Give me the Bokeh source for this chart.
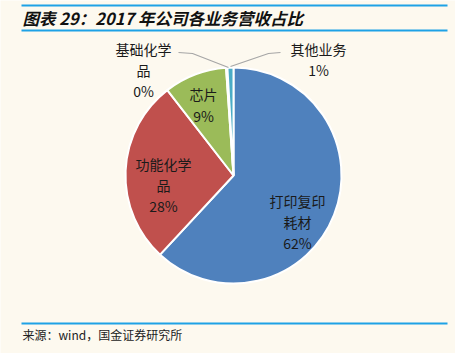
import numpy as np
from bokeh.plotting import figure
from bokeh.models import Range1d, ColumnDataSource
from bokeh.core.properties import value
from bokeh.embed import file_html
from bokeh.resources import INLINE

# ---- data ----
categories = ["打印复印耗材", "功能化学品", "芯片", "基础化学品", "其他业务"]
shares = [61.9, 27.6, 9.4, 0.2, 0.9]
pct_labels = ["62%", "28%", "9%", "0%", "1%"]
colors = ["#4F81BD", "#C0504D", "#9BBB59", "#8064A2", "#4BACC6"]

W, H = 455, 353
BG = "#FDF9EF"

p = figure(width=W, height=H, output_backend="svg", toolbar_location=None,
           x_range=Range1d(0, W), y_range=Range1d(0, H), min_border=0)
p.axis.visible = False
p.grid.visible = False
p.outline_line_color = None
p.background_fill_color = BG
p.border_fill_color = BG

def Y(y):
    return H - y

# pie geometry (layout)
cx, cy, r = 233, Y(175), 108
frac = np.array(shares) / sum(shares)
ends = np.cumsum(frac)
starts = ends - frac
start_angle = np.pi / 2 - 2 * np.pi * starts
end_angle = np.pi / 2 - 2 * np.pi * ends
src = ColumnDataSource(dict(cat=categories, start=start_angle, end=end_angle, color=colors))
p.wedge(x=cx, y=cy, radius=r, start_angle="start", end_angle="end",
        direction="clock", fill_color="color", line_color="white", line_width=2, source=src)

FONT = "Noto Sans CJK SC"

# slice labels (layout positions)
label_lines = [
    (["打印复印", "耗材", pct_labels[0]], 297, [200, 221, 242]),
    (["功能化学", "品", pct_labels[1]], 163, [163, 184, 205]),
    (["芯片", pct_labels[2]], 203, [93, 115]),
    (["基础化学", "品", pct_labels[3]], 143, [48, 69, 90]),
    (["其他业务", pct_labels[4]], 318, [48, 69]),
]
xs, ys, ts = [], [], []
for lines, lx, lys in label_lines:
    for t, ly in zip(lines, lys):
        xs.append(lx); ys.append(Y(ly)); ts.append(t)
p.text(x=xs, y=ys, text=ts, text_font=value(FONT), text_font_size="14px",
       text_color="#1a1a1a", text_align="center", text_baseline="middle")

# leader lines
p.line([178, 192, 228], [Y(52), Y(53), Y(67)], line_color="#A6A6A6", line_width=1.2)
p.line([280, 268, 230], [Y(52), Y(53), Y(66)], line_color="#A6A6A6", line_width=1.2)

# header / footer rules
p.segment(x0=[21, 21, 21], x1=[447, 447, 447], y0=[Y(5), Y(30), Y(323)], y1=[Y(5), Y(30), Y(323)],
          line_color="#1EA2E6", line_width=2)

# title
p.text(x=[22], y=[Y(17)], text=["图表 29：2017 年公司各业务营收占比"], text_font=value(FONT),
       text_font_size="16.5px", text_font_style="bold italic", text_color="#111111",
       text_baseline="middle")
# source
p.text(x=[22], y=[Y(334)], text=["来源：wind，国金证券研究所"], text_font=value(FONT),
       text_font_size="12px", text_color="#222222", text_baseline="middle")

open("out.html", "w").write(file_html(p, INLINE))
